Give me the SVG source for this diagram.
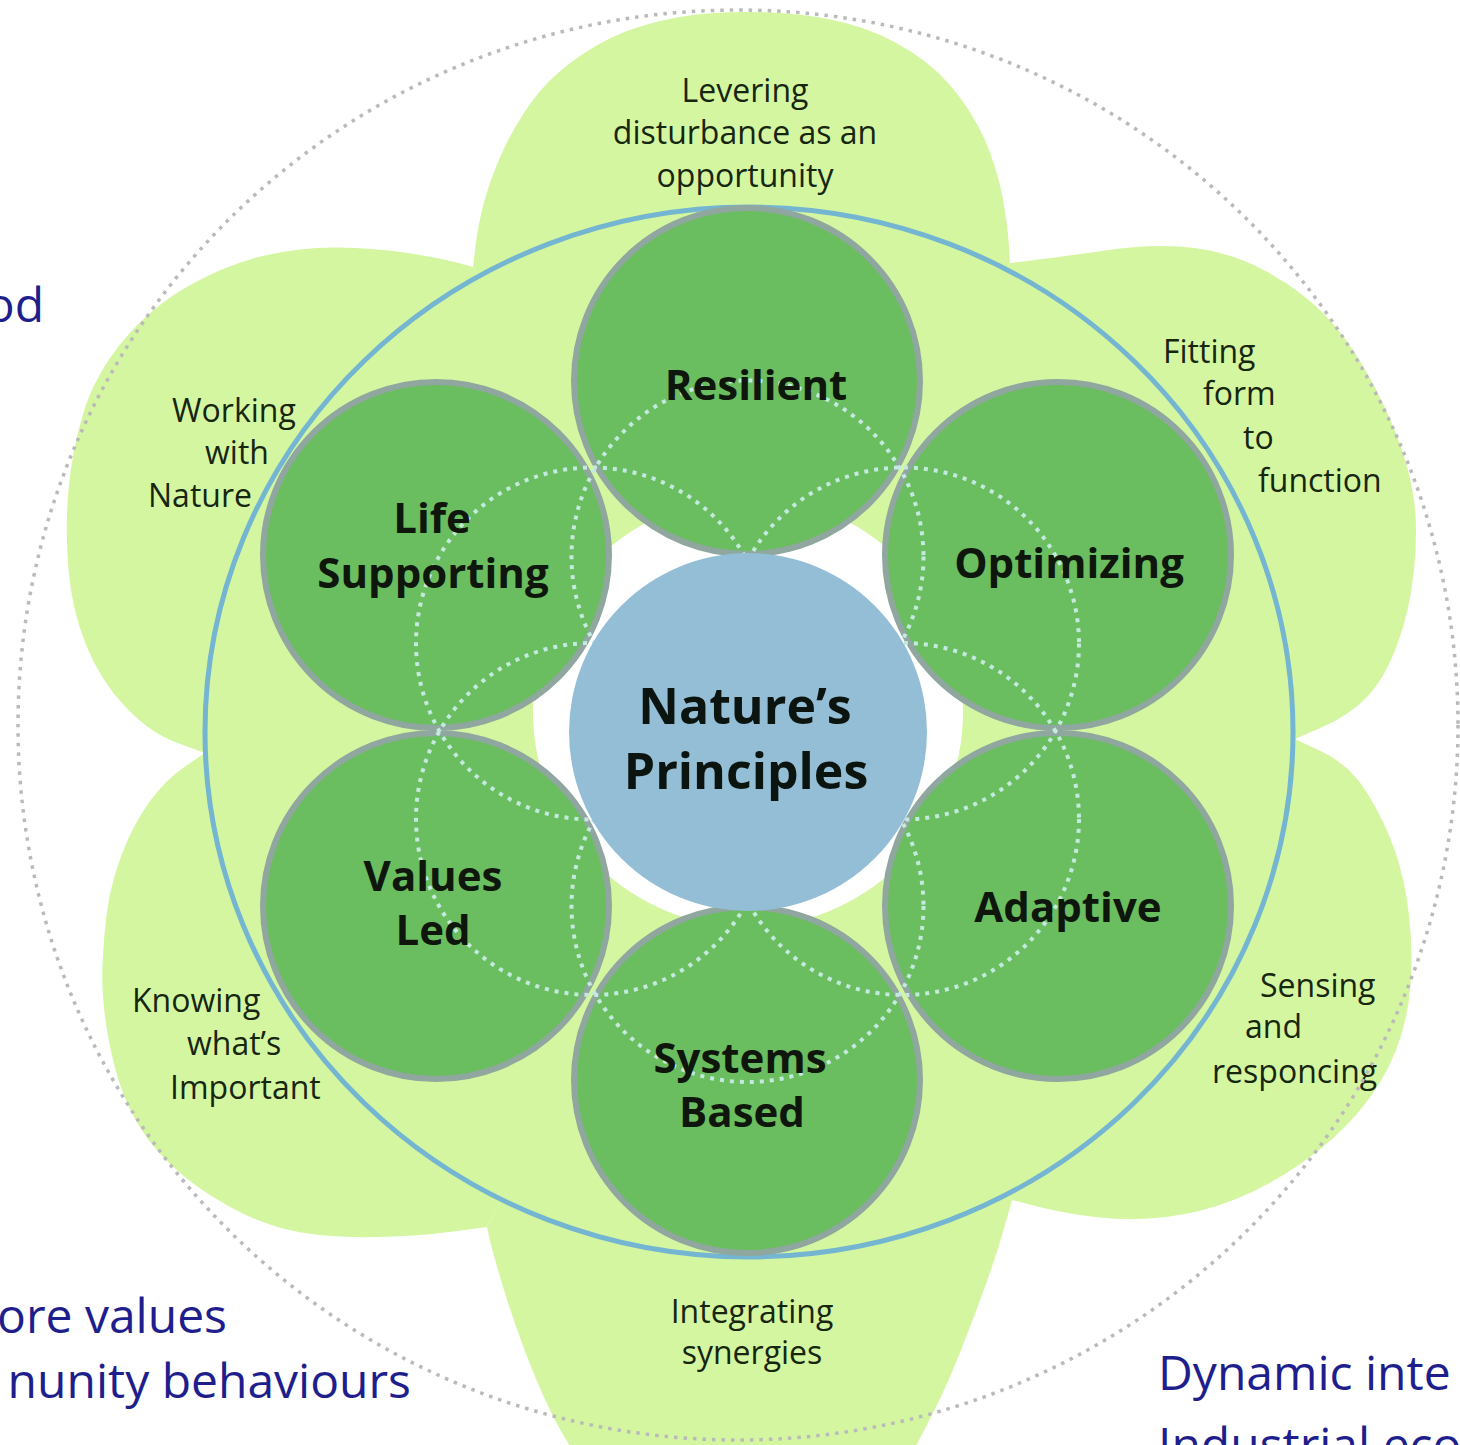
<svg xmlns="http://www.w3.org/2000/svg" width="1460" height="1445" viewBox="0 0 1460 1445">
<style>
.petal{fill:#d5f6a1}
.ring{fill:#d5f6a1;stroke:#74b5d2;stroke-width:5}
.dark{fill:#6abe5f;stroke:#8fa79e;stroke-width:6}
.seed{fill:none;stroke:#c4e9df;stroke-width:4;stroke-dasharray:4 6}
.outer{fill:none;stroke:#bababa;stroke-width:3.5;stroke-dasharray:3.5 6}
.pl{font-family:"Open Sans","Liberation Sans",sans-serif;font-size:32px;fill:#16260f}
.dl{font-family:"Open Sans","Liberation Sans",sans-serif;font-size:42px;font-weight:700;fill:#0f170d;text-anchor:middle}
.cl{font-family:"Open Sans","Liberation Sans",sans-serif;font-size:50px;font-weight:700;fill:#0c1410;text-anchor:middle}
.side{font-family:"Open Sans","Liberation Sans",sans-serif;font-size:48px;fill:#1e1e8c}
.mid{text-anchor:middle}
</style>
<rect width="1460" height="1445" fill="#ffffff"/>
<g id="petals">
<path id="petal-top" class="petal" d="M473,267 L475.5,246 Q478,225 484,202.5 Q490,180 501,155 Q512,130 530,104 Q548,78 579,56.5 Q610,35 645,25 Q680,15 713.5,13 Q747,11 781,13 Q815,15 847.5,23.5 Q880,32 910,51 Q940,70 960,97.5 Q980,125 990,152.5 Q1000,180 1004,205 Q1008,230 1009,246.5 L1010,263 L747,735 Z"/>
<path id="petal-upper-right" class="petal" d="M1010,263 L1035,260 Q1060,257 1108.5,250 Q1157,243 1195,248 Q1233,253 1266.5,271.5 Q1300,290 1322.5,312.5 Q1345,335 1364,367.5 Q1383,400 1396.5,435 Q1410,470 1414,500 Q1418,530 1414,570 Q1410,610 1397.5,644 Q1385,678 1367.5,696.5 Q1350,715 1322.5,727 L1295,739 L747,735 Z"/>
<path id="petal-lower-right" class="petal" d="M1295,739 L1322.5,752 Q1350,765 1367.5,793.5 Q1385,822 1395,851 Q1405,880 1409,915 Q1413,950 1410.5,985 Q1408,1020 1395.5,1051.5 Q1383,1083 1359,1111.5 Q1335,1140 1301,1163.5 Q1267,1187 1233.5,1200 Q1200,1213 1166.5,1217 Q1133,1221 1100,1217.5 Q1067,1214 1039.5,1207 L1012,1200 L747,735 Z"/>
<path id="petal-bottom" class="petal" d="M1012,1200 L1005,1225 Q998,1250 986.5,1282.5 Q975,1315 961.5,1349 Q948,1383 935,1409 Q922,1435 911,1455 L900,1475 L590,1475 L576,1455 Q562,1435 549.5,1409 Q537,1383 524.5,1350 Q512,1317 502,1283.5 Q492,1250 489.5,1238.5 L487,1227 L747,735 Z"/>
<path id="petal-lower-left" class="petal" d="M487,1227 L453.5,1231.5 Q420,1236 377.5,1237 Q335,1238 301,1232.5 Q267,1227 231,1207.5 Q195,1188 170,1164 Q145,1140 131,1111.5 Q117,1083 109,1041.5 Q101,1000 102.5,965 Q104,930 108,905 Q112,880 122.5,852.5 Q133,825 149,802.5 Q165,780 185,766.5 L205,753 L747,735 Z"/>
<path id="petal-upper-left" class="petal" d="M205,753 L177.5,743 Q150,733 125,706.5 Q100,680 86,645 Q72,610 68.5,570 Q65,530 68.5,490 Q72,450 83.5,412.5 Q95,375 122.5,341.5 Q150,308 187.5,286.5 Q225,265 262.5,256 Q300,247 337.5,247.5 Q375,248 407.5,253 Q440,258 456.5,262.5 L473,267 L747,735 Z"/>
</g>
<g id="ring">
<ellipse class="ring" cx="749" cy="732" rx="544" ry="525"/>
</g>
<g id="inner-field">
<circle cx="748" cy="712" r="215" fill="#ffffff"/>
</g>
<g id="node-resilient"><circle class="dark" cx="747" cy="381" r="173"/></g>
<g id="node-life-supporting"><circle class="dark" cx="436" cy="555" r="173"/></g>
<g id="node-optimizing"><circle class="dark" cx="1058" cy="555" r="173"/></g>
<g id="node-values-led"><circle class="dark" cx="436" cy="906" r="173"/></g>
<g id="node-adaptive"><circle class="dark" cx="1058" cy="906" r="173"/></g>
<g id="node-systems-based"><circle class="dark" cx="747" cy="1080" r="173"/></g>
<g id="seed-pattern">
<circle class="seed" cx="747.5" cy="556.5" r="176"/>
<circle class="seed" cx="592" cy="643.5" r="176"/>
<circle class="seed" cx="592" cy="819" r="176"/>
<circle class="seed" cx="903" cy="643.5" r="176"/>
<circle class="seed" cx="903" cy="819" r="176"/>
<circle class="seed" cx="747.5" cy="906" r="176"/>
</g>
<g id="node-center">
<circle cx="748" cy="732" r="179" fill="#93bed5"/>
<text class="cl" x="745" y="724">Nature’s</text>
<text class="cl" x="746" y="789">Principles</text>
</g>
<g id="labels-principles">
<text class="dl" x="756" y="400">Resilient</text>
<text class="dl" x="432" y="533">Life</text>
<text class="dl" x="433" y="588">Supporting</text>
<text class="dl" x="1069" y="578">Optimizing</text>
<text class="dl" x="433" y="891">Values</text>
<text class="dl" x="433" y="945">Led</text>
<text class="dl" x="1068" y="922">Adaptive</text>
<text class="dl" x="740" y="1073">Systems</text>
<text class="dl" x="742" y="1127">Based</text>
</g>
<g id="label-top">
<text class="pl mid" x="745" y="102">Levering</text>
<text class="pl mid" x="745" y="144">disturbance as an</text>
<text class="pl mid" x="745" y="187">opportunity</text>
</g>
<g id="label-upper-left">
<text class="pl" x="172" y="422">Working</text>
<text class="pl" x="205" y="464">with</text>
<text class="pl" x="148" y="507">Nature</text>
</g>
<g id="label-upper-right">
<text class="pl" x="1163" y="363">Fitting</text>
<text class="pl" x="1203" y="405">form</text>
<text class="pl" x="1243" y="449">to</text>
<text class="pl" x="1258" y="492">function</text>
</g>
<g id="label-lower-left">
<text class="pl" x="132" y="1012">Knowing</text>
<text class="pl" x="187" y="1055">what’s</text>
<text class="pl" x="170" y="1099">Important</text>
</g>
<g id="label-lower-right">
<text class="pl" x="1260" y="997">Sensing</text>
<text class="pl" x="1245" y="1038">and</text>
<text class="pl" x="1212" y="1083">responcing</text>
</g>
<g id="label-bottom">
<text class="pl mid" x="752" y="1323">Integrating</text>
<text class="pl mid" x="752" y="1364">synergies</text>
</g>
<g id="outer-boundary">
<ellipse class="outer" cx="738" cy="725" rx="720" ry="715"/>
</g>
<g id="side-texts">
<text class="side" x="44" y="322" text-anchor="end">od</text>
<text class="side" x="227" y="1333" text-anchor="end">ore values</text>
<text class="side" x="411" y="1398" text-anchor="end">nunity behaviours</text>
<text class="side" x="1158" y="1390">Dynamic inte</text>
<text class="side" x="1158" y="1462">Industrial eco</text>
</g>
</svg>
